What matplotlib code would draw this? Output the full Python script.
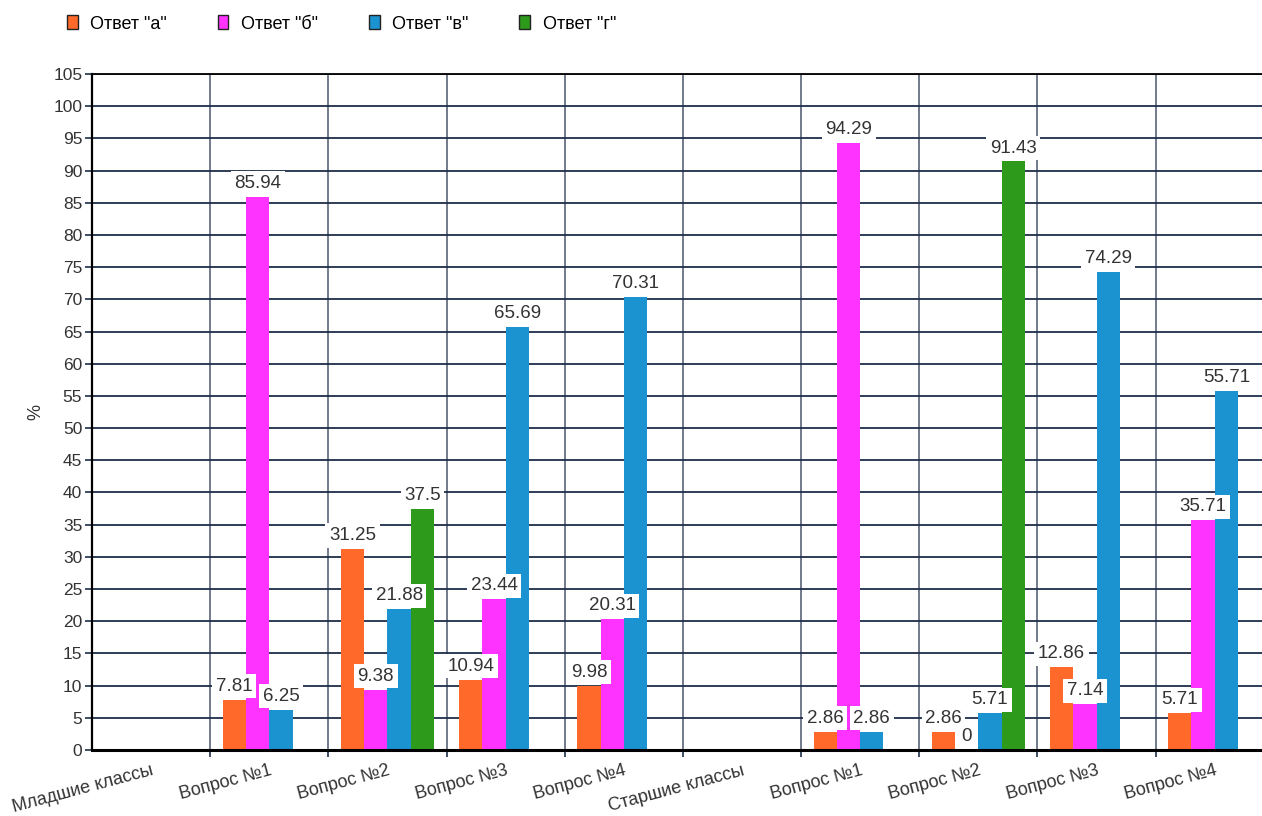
"""
Bar chart: distribution of answers (%) by question, junior vs senior classes.
Saves out.png
"""

import matplotlib.pyplot as plt
from matplotlib.patches import Patch
import numpy as np

nan = np.nan

categories = ['Младшие классы', 'Вопрос №1', 'Вопрос №2', 'Вопрос №3', 'Вопрос №4',
              'Старшие классы', 'Вопрос №1', 'Вопрос №2', 'Вопрос №3', 'Вопрос №4']
series_names = ['Ответ "а"', 'Ответ "б"', 'Ответ "в"', 'Ответ "г"']

answer_a = [nan, 7.81, 31.25, 10.94, 9.98, nan, 2.86, 2.86, 12.86, 5.71]
answer_b = [nan, 85.94, 9.38, 23.44, 20.31, nan, 94.29, 0, 7.14, 35.71]
answer_v = [nan, 6.25, 21.88, 65.69, 70.31, nan, 2.86, 5.71, 74.29, 55.71]
answer_g = [nan, nan, 37.5, nan, nan, nan, nan, 91.43, nan, nan]

colors = ['#FF6A2B', '#FF33FF', '#1A93D0', '#2E9A1C']
grid_color = '#1E2D4A'

plt.rcParams['font.family'] = ['Liberation Sans', 'DejaVu Sans']

fig = plt.figure(figsize=(12.62, 8.16), dpi=100)
ax = fig.add_axes([0.0729, 0.0809, 0.9271, 0.8284])

x = np.arange(len(categories))
w = 0.197
all_series = [answer_a, answer_b, answer_v, answer_g]

bars_list = []
for i, (vals, c) in enumerate(zip(all_series, colors)):
    b = ax.bar(x + (i - 1.5) * w, vals, w, color=c, zorder=2)
    bars_list.append((b, vals))

# value labels in white boxes, drawn above bars
for b, vals in bars_list:
    for bar, v in zip(b, vals):
        if np.isnan(v):
            continue
        ax.annotate(f'{v:g}', xy=(bar.get_x() + bar.get_width() / 2, v),
                    xytext=(0, 3.5), textcoords='offset points',
                    ha='center', va='bottom', fontsize=13.5, color='#333333',
                    bbox=dict(facecolor='white', edgecolor='none', pad=2.5),
                    zorder=3)

ax.set_ylim(0, 105)
ax.set_xlim(-0.5, 9.4)
ax.set_yticks(np.arange(0, 106, 5))
ax.set_xticks(x)
ax.set_xticklabels(categories, rotation=15, ha='right', rotation_mode='anchor',
                   fontsize=13, color='#333333')
ax.set_xticks(x[:-1] + 0.5, minor=True)
ax.tick_params(axis='x', which='major', length=0, pad=9)
ax.tick_params(axis='x', which='minor', length=5, width=1.2, color=grid_color)
ax.tick_params(axis='y', length=5, width=1.2, color=grid_color, labelsize=12.5,
               labelcolor='#333333', pad=2)

ax.set_axisbelow(True)
ax.grid(axis='y', which='major', color=grid_color, linewidth=1.3)
ax.grid(axis='x', which='minor', color=grid_color, linewidth=1.1, alpha=0.8)
ax.spines['right'].set_visible(False)
ax.spines['top'].set_color('black')
ax.spines['top'].set_linewidth(1.3)
ax.spines['left'].set_linewidth(1.6)
ax.spines['bottom'].set_linewidth(2.2)

ax.set_ylabel('%', fontsize=13, color='#333333', labelpad=6)

handles = [Patch(facecolor=c, edgecolor='#222222', linewidth=1) for c in colors]
fig.legend(handles, series_names, loc='center left', bbox_to_anchor=(0.053, 0.9706),
           ncol=4, frameon=False, fontsize=13, handlelength=0.6, handleheight=0.8,
           handletextpad=0.7, columnspacing=2.8, borderpad=0, borderaxespad=0)

plt.savefig('out.png', dpi=100)
plt.close()
